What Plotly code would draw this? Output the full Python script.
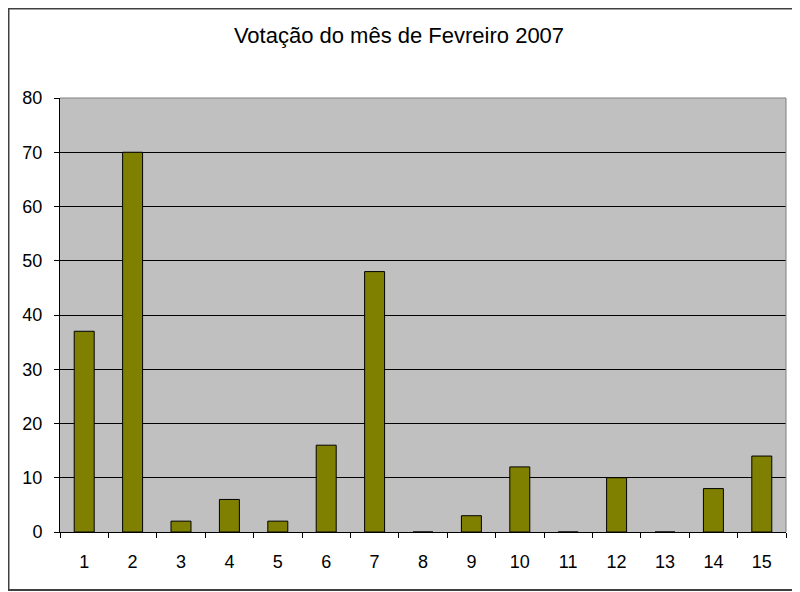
import plotly.graph_objects as go

categorias = [str(i) for i in range(1, 16)]
votos = [37, 70, 2, 6, 2, 16, 48, 0, 3, 12, 0, 10, 0, 8, 14]
titulo = "Votação do mês de Fevreiro 2007"

fonte = "Liberation Sans, Arial, sans-serif"

# a página tem margem de 8px no body, então o figure começa em (8, 8)
W, H = 792, 584
ml, mr, mt, mb = 52, 14, 90, 60
pw, ph = W - ml - mr, H - mt - mb

fig = go.Figure()
fig.add_trace(go.Bar(
    x=categorias, y=votos,
    marker=dict(color="#808000", line=dict(color="black", width=1)),
    showlegend=False,
))

fig.update_layout(
    width=W, height=H,
    margin=dict(l=ml, r=mr, t=mt, b=mb),
    paper_bgcolor="white",
    plot_bgcolor="#C0C0C0",
    bargap=0.587,
    font=dict(family=fonte, size=18, color="black"),
    title=dict(text=titulo, x=(399 - 8) / W, xanchor="center", y=1 - 27 / H, yanchor="middle",
               yref="container", font=dict(size=22, color="black")),
)

fig.update_xaxes(
    type="category", tickson="boundaries",
    ticks="outside", ticklen=5, tickcolor="black", tickwidth=1,
    showline=True, linecolor="black", linewidth=1,
    showgrid=False, ticklabelstandoff=13,
)
fig.update_yaxes(
    range=[0, 80], dtick=10,
    ticks="outside", ticklen=5, tickcolor="black", tickwidth=1,
    showline=True, linecolor="black", linewidth=1,
    showgrid=True, gridcolor="black", gridwidth=1,
    zeroline=False, ticklabelstandoff=8,
)

# borda cinza do plot area (topo e direita)
fig.add_shape(type="line", xref="paper", yref="paper", x0=0, x1=1, y0=1, y1=1,
              line=dict(color="#808080", width=1), layer="above")
fig.add_shape(type="line", xref="paper", yref="paper", x0=1, x1=1, y0=0, y1=1,
              line=dict(color="#808080", width=1), layer="above")
# borda externa do gráfico
fig.add_shape(type="rect", xref="paper", yref="paper",
              x0=(0.5 - ml) / pw, x1=(789 - ml) / pw,
              y0=(mt + ph - 582) / ph, y1=(mt + ph - 0.5) / ph,
              line=dict(color="#404040", width=2), layer="above")

fig.write_html("out.html")
